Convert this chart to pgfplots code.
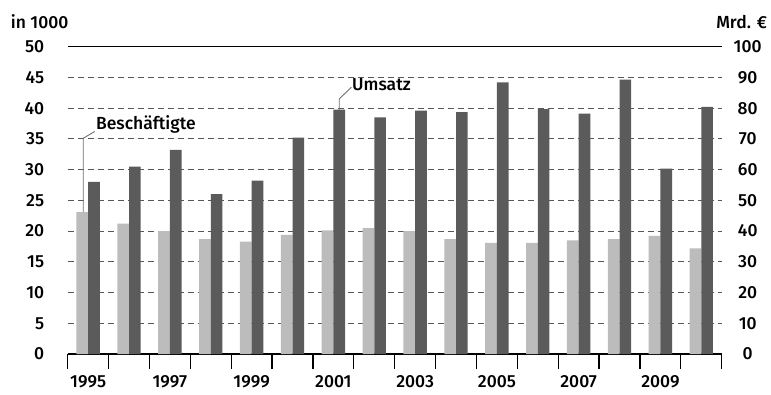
\documentclass[border=0pt]{standalone}
\usepackage{pgfplots}
\pgfplotsset{compat=1.18}
\usepackage{fontspec}
\setmainfont{Fira Sans Medium}
\definecolor{lightbar}{HTML}{BBBCBB}
\definecolor{darkbar}{HTML}{5B5B5B}
\definecolor{gridc}{HTML}{585858}
\definecolor{leader}{HTML}{707070}

\begin{document}
\begin{tikzpicture}[font=\fontsize{17.5}{20}\selectfont]
\pgfplotsset{
  base/.style={
    at={(0,0)}, anchor=south west,
    width=654pt, height=307.3pt, scale only axis,
    xmin=-0.5, xmax=15.5,
    ybar, bar width=11.7pt,
    /pgf/number format/assume math mode=true,
    tick label style={font=\fontsize{17.5}{20}\selectfont},
  }
}
\begin{axis}[
  base,
  clip=false,
  ymin=0, ymax=50,
  bar shift=-5.85pt,
  axis x line*=bottom, axis y line*=left,
  y axis line style={draw=none},
  x axis line style={line width=1.4pt, -},
  xtick={0,2,...,14},
  xticklabels={1995,1997,1999,2001,2003,2005,2007,2009},
  major x tick style={draw=none},
  major tick length=0pt,
  minor xtick={-0.5,0.5,...,15.5},
  minor x tick style={line width=1.2pt, black},
  minor tick length=15pt,
  xtick align=outside,
  xticklabel style={yshift=-18pt},
  ytick={0,5,...,50},
  major y tick style={draw=none},
  yticklabel style={xshift=-20pt},
  ymajorgrids,
  grid style={gridc, dash pattern=on 6pt off 4pt, line width=1pt},
]
\addplot[fill=lightbar, draw=none] coordinates {
(0,23.1) (1,21.2) (2,20.0) (3,18.7) (4,18.3) (5,19.4) (6,20.1) (7,20.5)
(8,20.0) (9,18.7) (10,18.1) (11,18.1) (12,18.5) (13,18.7) (14,19.2) (15,17.2)};
\draw[black, line width=1.5pt] (axis cs:-0.5,50) -- (axis cs:15.5,50);
\draw[leader, line width=0.9pt] (axis cs:-0.12,23.1) -- (axis cs:-0.12,35.1) -- (axis cs:0.16,36.2);
\node[anchor=west, inner sep=0pt] at (axis cs:0.19,37.3) {Beschäftigte};
\draw[leader, line width=0.9pt] (axis cs:6.143,39.7) -- (axis cs:6.143,41.5) -- (axis cs:6.44,43.4);
\node[anchor=west, inner sep=0pt] at (axis cs:6.455,43.8) {Umsatz};
\node[inner sep=0pt] at ([xshift=-28pt, yshift=25pt]rel axis cs:0,1) {in 1000};
\node[inner sep=0pt] at ([xshift=20pt, yshift=25pt]rel axis cs:1,1) {Mrd. €};
\end{axis}
\begin{axis}[
  base,
  ymin=0, ymax=100,
  bar shift=5.85pt,
  axis x line=none,
  axis y line*=right,
  y axis line style={draw=none},
  ytick={0,10,...,100},
  major y tick style={draw=none},
  major tick length=0pt,
  yticklabel style={anchor=center, xshift=26pt},
]
\addplot[fill=darkbar, draw=none] coordinates {
(0,56) (1,61) (2,66.4) (3,52) (4,56.4) (5,70.4) (6,79.5) (7,77)
(8,79.2) (9,78.7) (10,88.4) (11,79.7) (12,78.2) (13,89.3) (14,60.3) (15,80.4)};
\end{axis}
\pgfresetboundingbox
\path (-67.7pt,-40pt) rectangle (703.3pt,354pt);
\end{tikzpicture}
\end{document}
